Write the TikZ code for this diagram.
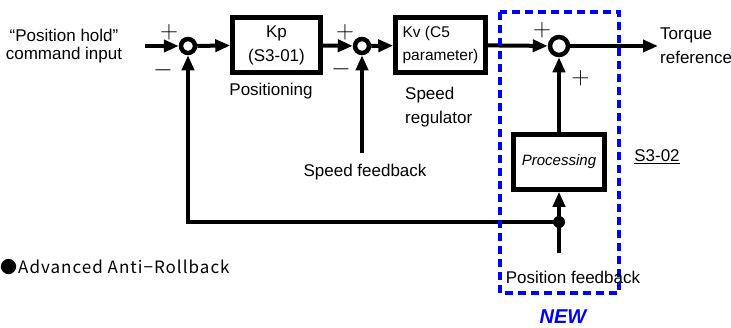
\documentclass[tikz,border=0pt]{standalone}
\usepackage{fontspec}
\setmainfont{Liberation Sans}
\newfontfamily\jpfont[LetterSpace=6]{Noto Sans CJK JP}
\usetikzlibrary{arrows.meta}
\definecolor{newblue}{RGB}{0,0,255}
\begin{document}
\begin{tikzpicture}[x=1pt, y=-1pt, >={Triangle[length=15pt,width=12pt]},
    every node/.style={font=\fontsize{17}{24}\selectfont, inner sep=0pt},
    block/.style={draw, line width=4.5pt, minimum height=55pt},
    sumpt/.style={circle, draw, line width=4.5pt, minimum size=#1},
    sig/.style={line width=4pt},
    sgn/.style={font=\fontsize{25}{25}\selectfont}]
    \useasboundingbox (0,0) rectangle (731,327);
    % blocks and summing points
    \node[sumpt=14pt] (s1) at (188,46) {};
    \node[sumpt=14pt] (s2) at (362,46) {};
    \node[sumpt=18pt] (s3) at (559,46) {};
    \node[block, minimum width=88pt, align=center, text depth=3pt] (kp)
      at (276.5,45) {Kp\\(S3-01)};
    \node[block, minimum width=90pt, align=left, text depth=3pt,
      font=\fontsize{15.5}{23}\selectfont] (kv) at (440.5,45)
      {Kv (C5\\parameter)};
    \node[block, minimum width=91pt, font=\fontsize{15}{18}\selectfont\itshape]
      (proc) at (559,162) {Processing};
    \coordinate (in) at (145,46);
    \coordinate (out) at (658,46);
    \coordinate (sfb) at (362,153);
    \coordinate (pfb) at (559,253);
    \coordinate (jn) at (559,222);
    % forward path
    \draw[sig, ->] (in) -- (s1);
    \draw[sig, ->] (s1) -- (kp);
    \draw[sig, ->] (kp) -- (s2);
    \draw[sig, ->] (s2) -- (kv);
    \draw[sig, ->] (kv) -- (s3);
    \draw[sig, ->] (s3) -- (out);
    % feedback
    \draw[sig, ->] (sfb) -- (s2);
    \draw[sig] (pfb) -- (jn);
    \draw[sig, ->] (jn) -- (proc);
    \draw[sig, ->] (jn) -| (s1);
    \draw[sig, ->] (proc) -- (s3);
    \fill (jn) circle (6);
    % signs
    \node[sgn] (p1) at (169,32) {$+$};
    \node[sgn] (m1) at (163,70) {$-$};
    \node[sgn] (p2) at (345,32) {$+$};
    \node[sgn] (m2) at (341,69) {$-$};
    \node[sgn] (p3) at (542,30) {$+$};
    \node[sgn] (p4) at (580.5,78) {$+$};
    % labels
    \node[align=center, font=\fontsize{17}{18.5}\selectfont] (cmd) at (64,46)
      {“Position hold”\\command input};
    \node (posn) at (271,91) {Positioning};
    \node[anchor=west, align=left] (sreg) at (405,107) {Speed\\regulator};
    \node (sfbl) at (365,172) {Speed feedback};
    \node[anchor=west, align=left] (torq) at (660,46) {Torque\\reference};
    \node (s302) at (657,157) {\underline{S3-02}};
    % new part
    \draw[newblue, line width=3.2pt, dash pattern=on 8pt off 5pt]
      (500,12) rectangle (619,293);
    \node (pfbl) at (573,277) {Position feedback};
    \node[text=newblue, font=\fontsize{20}{20}\selectfont\bfseries\itshape]
      (new) at (563,317) {NEW};
    \node[anchor=west, font=\fontsize{17}{17}\selectfont\jpfont] (aar) at (0,267)
      {●Advanced Anti−Rollback};
\end{tikzpicture}
\end{document}
